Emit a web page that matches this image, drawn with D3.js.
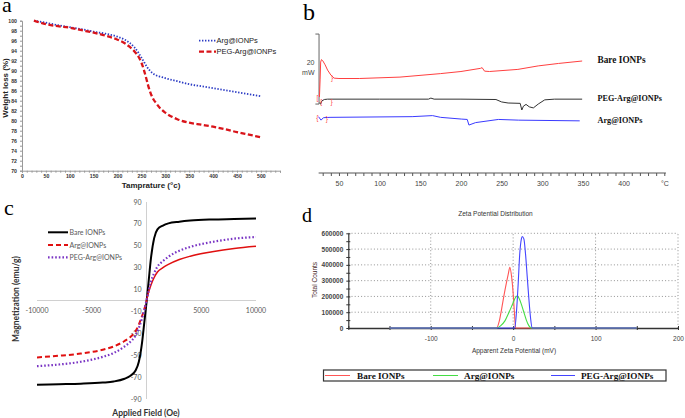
<!DOCTYPE html>
<html><head><meta charset="utf-8">
<script src="https://cdn.jsdelivr.net/npm/d3@7/dist/d3.min.js"></script>
<style>body{margin:0;background:#fff}svg{display:block}</style>
</head><body>
<script>
// ---------- Panel a: TGA ----------
const tgaTemp = [25,50,75,100,125,150,175,200,215,225,235,245,250,255,260,265,270,275,280,290,300,325,350,375,400,425,450,475,500];
const tgaArg  = [100,99.6,99.1,98.7,98.3,97.8,97.4,96.8,96.2,95.6,94.7,93.4,92.6,91.8,91.0,90.3,89.8,89.4,89.1,88.8,88.5,87.9,87.3,86.9,86.5,86.1,85.7,85.3,84.9];
const tgaPeg  = [100,99.3,98.9,98.6,98.1,97.6,97.0,96.2,95.5,94.8,93.9,92.6,91.6,90.2,88.5,86.7,85.3,84.3,83.6,82.4,81.6,80.3,79.6,79.2,78.8,78.3,77.7,77.2,76.7];
const tgaSeries = ["Arg@IONPs","PEG-Arg@IONPs"];
const tgaYTicks = [70,72,74,76,78,80,82,84,86,88,90,92,94,96,98,100];
const tgaXTicks = [0,50,100,150,200,250,300,350,400,450,500];

// ---------- Panel b: DSC ----------
const dscBareT = [26,26.8,27.5,28.5,30,33,36,40,44,50,75,125,175,200,224,226,229,235,270,295,320,349];
const dscBare  = [21.7,26.6,31.7,32.4,32.1,30.9,29.4,28,27.1,27,27,27.4,28.4,29,29.9,30.1,29.1,29,29.6,30.6,31.3,32];
const dscPegT  = [26,27.5,29,32,36,100,160,163,167,200,243,250,258,272.8,274.8,276.8,280,284,289,295,303,315,349];
const dscPeg   = [20,19.7,20.6,21,21.1,21.1,21.1,21.4,21.1,21.1,21,20.3,20,19.9,18,19.1,19.6,18.9,18.6,19.7,20.9,21.1,21.1];
const dscArgT  = [24.8,28,30.9,39,140,165,175,201,207.7,209.8,218,246,271,346];
const dscArg   = [16.1,15.1,15.8,15.9,16.1,16.4,15.9,15.4,15.3,13.7,14.4,15.3,15.1,14.9];
const dscLabels = ["Bare IONPs","PEG-Arg@IONPs","Arg@IONPs"];
const dscXTicks = [50,100,150,200,250,300,350,400];
const dscScaleBar = [19.7,39.7]; // 20 mW

// ---------- Panel c: VSM ----------
const vsmH    = [-10000,-8000,-6000,-4000,-3000,-2000,-1500,-1000,-700,-400,-200,0,200,400,700,1000,1500,2000,3000,4000,6000,8000,10000];
const vsmBare = [-77,-76.5,-76,-75,-74,-71.5,-69,-64,-56,-38,-20,-2,18,38,57,65,68.5,70.5,72,73,74,74.5,75];
const vsmArg  = [-52,-50.5,-48.5,-45,-42,-37,-33.5,-28,-22,-14,-8,0,8,14,21,26,30,33,37.5,40.5,44.5,47.5,49.5];
const vsmPeg  = [-60,-58.5,-56,-51.5,-48,-42,-38,-32,-25,-16,-9,0,9,17,25,31,36,40,45.5,49,53.5,56.5,58];
const vsmSeries = ["Bare IONPs","Arg@IONPs","PEG-Arg@IONPs"];
const vsmYTicks = [90,70,50,30,10,-10,-30,-50,-70,-90];
const vsmXTicks = [-10000,-5000,5000,10000];

// ---------- Panel d: Zeta ----------
const zetaBareX = [-150,-20,-17,-14,-11,-8,-6,-4,-2,0,1.5,3,150];
const zetaBare  = [0,0,40000,120000,210000,290000,340000,385000,330000,220000,100000,0,0];
const zetaArgX  = [-150,-20,-15,-10,-5,0,3,5,7,10,13,16,19,22,150];
const zetaArg   = [0,0,15000,45000,100000,160000,195000,203000,190000,150000,100000,50000,15000,0,0];
const zetaPegX  = [-150,2,4,6,8,10,11,13,15,17,19,21,23,150];
const zetaPeg   = [0,0,100000,270000,470000,565000,580000,565000,470000,330000,190000,70000,0,0];
const zetaSeries = ["Bare IONPs","Arg@IONPs","PEG-Arg@IONPs"];
const zetaYTicks = [0,100000,200000,300000,400000,500000,600000];
const zetaXTicks = [-100,0,100,200];

const SANS = "'Liberation Sans', Arial, sans-serif";
const SERIF = "'Liberation Serif', 'Times New Roman', serif";
const CAL = "Lato, 'Open Sans', sans-serif";

const svg = d3.select("body").append("svg").attr("width",685).attr("height",418);
svg.append("rect").attr("width",685).attr("height",418).attr("fill","#fff");

function letter(t,x,y,size){
  svg.append("text").attr("x",x).attr("y",y).attr("font-family",SERIF).attr("font-size",size).attr("fill","#000").text(t);
}
letter("a",2,12,22); letter("b",303,20,24); letter("c",4,215,22); letter("d",302,221.5,20);

// ================= Panel a =================
{
  const g = svg.append("g");
  const x = d3.scaleLinear([0,540],[22,280]);
  const y = d3.scaleLinear([70,100],[170.7,20.7]);
  const ax = g.append("g").attr("transform","translate(0,170.7)")
    .call(d3.axisBottom(x).tickValues(d3.range(0,541,10)).tickSize(2).tickFormat(d=>tgaXTicks.includes(d)?d:""));
  const ay = g.append("g").attr("transform","translate(22,0)")
    .call(d3.axisLeft(y).tickValues(d3.range(70,101,1)).tickSize(2).tickFormat(d=>tgaYTicks.includes(d)?d:""));
  [ax,ay].forEach(a=>{
    a.select(".domain").attr("stroke","#999");
    a.selectAll("line").attr("stroke","#999");
    a.selectAll("text").attr("font-family",SANS).attr("font-size",5.2).attr("font-weight","bold").attr("fill","#333");
  });
  ax.selectAll("text").attr("y",3.5);
  const line = d3.line().x(d=>x(d[0])).y(d=>y(d[1])).curve(d3.curveMonotoneX);
  g.append("path").attr("d",line(tgaTemp.map((t,i)=>[t,tgaArg[i]])))
    .attr("fill","none").attr("stroke","#2b3bc4").attr("stroke-width",1.8).attr("stroke-dasharray","1.4,1.6");
  g.append("path").attr("d",line(tgaTemp.map((t,i)=>[t,tgaPeg[i]])))
    .attr("fill","none").attr("stroke","#d9141a").attr("stroke-width",2.3).attr("stroke-dasharray","5,2.5");
  // legend
  const lg = [[40.7,"#2b3bc4",1.8,"1.4,1.6"],[51.7,"#d9141a",2.3,"5,2.5"]];
  lg.forEach((l,i)=>{
    g.append("line").attr("x1",199).attr("x2",216).attr("y1",l[0]).attr("y2",l[0])
      .attr("stroke",l[1]).attr("stroke-width",l[2]).attr("stroke-dasharray",l[3]);
    g.append("text").attr("x",216.5).attr("y",l[0]+2.5).attr("font-family",SANS).attr("font-size",7.5)
      .attr("fill","#222").text(tgaSeries[i]);
  });
  g.append("text").attr("x",151).attr("y",188).attr("text-anchor","middle").attr("font-family",SANS)
    .attr("font-size",8).attr("font-weight","bold").attr("fill","#222").text("Tamprature (°c)");
  g.append("text").attr("transform","translate(7.5,88) rotate(-90)").attr("text-anchor","middle").attr("font-family",SANS)
    .attr("font-size",8).attr("font-weight","bold").attr("fill","#222").text("Weight loss (%)");
}

// ================= Panel b =================
{
  const g = svg.append("g");
  const x = d3.scaleLinear([0,450],[298.3,664.3]);
  const y = d3.scaleLinear([0,44],[173,19]);
  const ax = g.append("g").attr("transform","translate(0,173)")
    .call(d3.axisBottom(x).tickValues(d3.range(30,451,10)).tickSize(3).tickSizeOuter(0)
      .tickFormat(d=>dscXTicks.includes(d)?d:(d===450?"°C":"")));
  ax.select(".domain").attr("stroke","#555").attr("d",`M${x(25)},0H${x(452)}`);
  ax.selectAll("line").attr("stroke","#555");
  ax.selectAll("text").attr("font-family",SANS).attr("font-size",7).attr("fill","#444").attr("dy","0.95em");
  // scale bar
  g.append("path").attr("d",`M${x(21)},${y(dscScaleBar[1])}H${x(25.5)}V${y(dscScaleBar[0])}H${x(21)}`)
    .attr("fill","none").attr("stroke","#666").attr("stroke-width",1);
  g.append("text").attr("x",314.5).attr("y",65).attr("text-anchor","end").attr("font-family",SANS).attr("font-size",7).attr("fill","#444").text("20");
  g.append("text").attr("x",314.5).attr("y",74.5).attr("text-anchor","end").attr("font-family",SANS).attr("font-size",7).attr("fill","#444").text("mW");
  const line = d3.line().x(d=>x(d[0])).y(d=>y(d[1])).curve(d3.curveLinear);
  const series = [[dscBareT,dscBare,"#ff4040"],[dscPegT,dscPeg,"#333"],[dscArgT,dscArg,"#3a3aff"]];
  series.forEach(s=>{
    g.append("path").attr("d",line(s[0].map((t,i)=>[t,s[1][i]]))).attr("fill","none").attr("stroke",s[2]).attr("stroke-width",1);
  });
  // small range markers
  const mk = [[23.5,21.5,"["],[28,20.3,"{"],[41,20.3,"}"],[41.5,27.3,"}"],[23.5,16,"{"],[35,15.6,"}"]];
  mk.forEach(m=>g.append("text").attr("x",x(m[0])).attr("y",y(m[1])+2.5).attr("text-anchor","middle")
    .attr("font-family",SANS).attr("font-size",6.5).attr("fill","#ff4040").text(m[2]));
  const ly = [[9.3,62.5],[8.2,101],[8.2,123]];
  dscLabels.forEach((t,i)=>g.append("text").attr("x",597.5).attr("y",ly[i][1]).attr("font-family",SERIF)
    .attr("font-size",ly[i][0]).attr("font-weight","bold").attr("fill","#111").text(t));
}

// ================= Panel c =================
{
  const g = svg.append("g");
  const x = d3.scaleLinear([-10000,10000],[37,256]);
  const y = d3.scaleLinear([-90,90],[399,202]);
  g.append("line").attr("x1",x(-10000)).attr("x2",x(10000)).attr("y1",y(0)).attr("y2",y(0)).attr("stroke","#d0d0d0");
  g.append("line").attr("x1",x(0)).attr("x2",x(0)).attr("y1",y(90)).attr("y2",y(-90)).attr("stroke","#d0d0d0");
  vsmYTicks.forEach(v=>g.append("text").attr("x",x(0)-5).attr("y",y(v)+2.5).attr("text-anchor","end")
    .attr("font-family",CAL).attr("font-size",7).attr("fill","#595959").text(v));
  vsmXTicks.forEach(v=>g.append("text").attr("x",x(v)).attr("y",y(0)+12.5).attr("text-anchor","middle")
    .attr("font-family",CAL).attr("font-size",7).attr("fill","#595959").text(v));
  const line = d3.line().x(d=>x(d[0])).y(d=>y(d[1])).curve(d3.curveMonotoneX);
  const pts = arr => vsmH.map((h,i)=>[h,arr[i]]);
  g.append("path").attr("d",line(pts(vsmBare))).attr("fill","none").attr("stroke","#000").attr("stroke-width",2);
  g.append("path").attr("d",line(pts(vsmArg).filter(d=>d[0]<=0))).attr("fill","none").attr("stroke","#e01010").attr("stroke-width",2).attr("stroke-dasharray","5,3");
  g.append("path").attr("d",line(pts(vsmArg).filter(d=>d[0]>=0))).attr("fill","none").attr("stroke","#e01010").attr("stroke-width",1.5);
  g.append("path").attr("d",line(pts(vsmPeg))).attr("fill","none").attr("stroke","#7a35c4").attr("stroke-width",2.2).attr("stroke-dasharray","1.6,2");
  const lg = [[232.3,"#000",2,null],[245,"#e01010",2,"5,3"],[257.3,"#7a35c4",2.2,"1.6,2"]];
  lg.forEach((l,i)=>{
    const ln = g.append("line").attr("x1",48).attr("x2",68).attr("y1",l[0]).attr("y2",l[0]).attr("stroke",l[1]).attr("stroke-width",l[2]);
    if(l[3]) ln.attr("stroke-dasharray",l[3]);
    g.append("text").attr("x",69.5).attr("y",l[0]+2.5).attr("font-family",CAL).attr("font-size",7).attr("fill","#595959").text(vsmSeries[i]);
  });
  g.append("text").attr("x",146).attr("y",416).attr("text-anchor","middle").attr("font-family",CAL)
    .attr("font-size",8.5).attr("font-weight","bold").attr("fill","#333").text("Applied Field (Oe)");
  g.append("text").attr("transform","translate(19,299) rotate(-90)").attr("text-anchor","middle").attr("font-family",CAL)
    .attr("font-size",8.5).attr("font-weight","bold").attr("fill","#333").text("Magnetization (emu/g)");
}

// ================= Panel d =================
{
  const g = svg.append("g");
  const x = d3.scaleLinear([-200,200],[348.3,678]);
  const y = d3.scaleLinear([0,600000],[328,233.3]);
  zetaYTicks.filter(v=>v>0).forEach(v=>g.append("line").attr("x1",x(-200)).attr("x2",x(200)).attr("y1",y(v)).attr("y2",y(v))
    .attr("stroke","#777").attr("stroke-width",0.8).attr("stroke-dasharray","1,2.2"));
  zetaXTicks.forEach(v=>g.append("line").attr("x1",x(v)).attr("x2",x(v)).attr("y1",y(0)).attr("y2",y(600000))
    .attr("stroke","#777").attr("stroke-width",0.8).attr("stroke-dasharray","1,2.2"));
  const ay = g.append("g").attr("transform",`translate(${x(-200)},0)`)
    .call(d3.axisLeft(y).tickValues(d3.range(0,600001,50000)).tickSize(2).tickSizeOuter(0)
      .tickFormat(d=>zetaYTicks.includes(d)?d:""));
  ay.selectAll("line").attr("stroke","#333").attr("x2",2).attr("x1",-2);
  ay.select(".domain").attr("stroke","#333").attr("stroke-width",1.2);
  ay.selectAll("text").attr("font-family",SANS).attr("font-size",6.5).attr("font-weight","bold").attr("fill","#444");
  const ax = g.append("g").attr("transform",`translate(0,${y(0)})`)
    .call(d3.axisBottom(x).tickValues(d3.range(-200,201,50)).tickSize(2).tickSizeOuter(0)
      .tickFormat(d=>zetaXTicks.includes(d)?d:""));
  ax.selectAll("line").attr("stroke","#333").attr("y1",-2).attr("y2",2);
  ax.select(".domain").attr("stroke","#333").attr("stroke-width",1.5);
  ax.selectAll("text").attr("font-family",SANS).attr("font-size",6.5).attr("fill","#444").attr("dy","1.3em");
  const line = d3.line().x(d=>x(d[0])).y(d=>y(d[1])).curve(d3.curveMonotoneX);
  const series = [[zetaBareX,zetaBare,"#ff5555"],[zetaArgX,zetaArg,"#44dd44"],[zetaPegX,zetaPeg,"#4444ff"]];
  series.forEach(s=>g.append("path").attr("d",line(s[0].map((v,i)=>[v,s[1][i]]))).attr("fill","none").attr("stroke",s[2]).attr("stroke-width",1.1));
  g.append("text").attr("x",495.5).attr("y",215.5).attr("text-anchor","middle").attr("font-family",SANS).attr("font-size",6.5).attr("fill","#333").text("Zeta Potential Distribution");
  g.append("text").attr("x",514).attr("y",352.5).attr("text-anchor","middle").attr("font-family",SANS).attr("font-size",6.5).attr("fill","#333").text("Apparent Zeta Potential (mV)");
  g.append("text").attr("transform","translate(317,280) rotate(-90)").attr("text-anchor","middle").attr("font-family",SANS).attr("font-size",6.5).attr("fill","#4a2a2a").text("Total Counts");
  // legend
  g.append("rect").attr("x",323.5).attr("y",370).attr("width",342.5).attr("height",11).attr("fill","none").attr("stroke","#333").attr("stroke-width",1.2);
  const lx = [[325,350,357],[433,458,464],[551,575,581]];
  series.forEach((s,i)=>{
    g.append("line").attr("x1",lx[i][0]).attr("x2",lx[i][1]).attr("y1",375.5).attr("y2",375.5).attr("stroke",s[2]).attr("stroke-width",1);
    g.append("text").attr("x",lx[i][2]).attr("y",379).attr("font-family",SERIF).attr("font-size",9.2).attr("font-weight","bold").attr("fill","#111").text(zetaSeries[i]);
  });
}
</script>
</body></html>
